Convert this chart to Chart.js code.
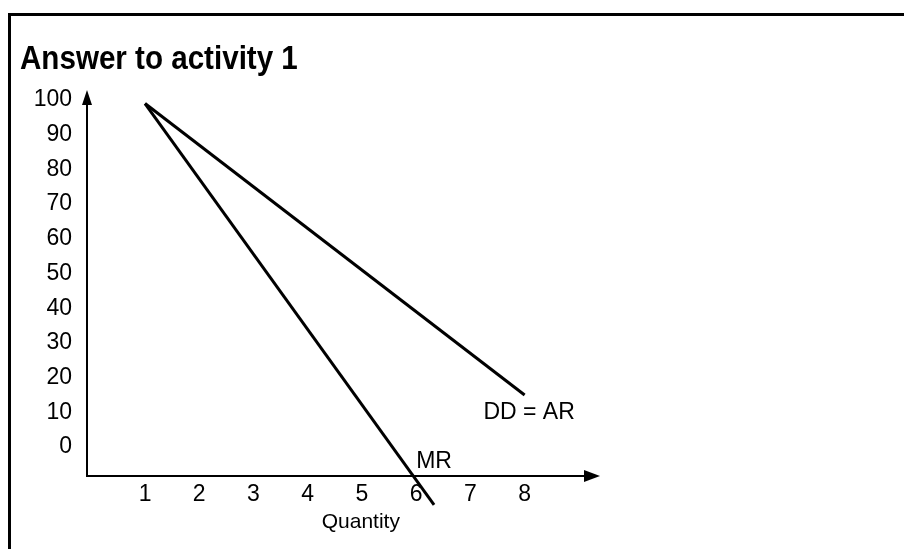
<!DOCTYPE html>
<html>
<head>
<meta charset="utf-8">
<script src="https://cdn.jsdelivr.net/npm/chart.js@4/dist/chart.umd.min.js"></script>
<style>
  html, body { margin: 0; padding: 0; background: #fff; overflow: hidden; }
  #wrap { width: 904px; height: 549px; }
</style>
</head>
<body>
<div id="wrap"><canvas id="revenueChart" width="904" height="549"></canvas></div>
<script>
// quantity on x, price / revenue on y
const quantityTicks = [1, 2, 3, 4, 5, 6, 7, 8];
const priceTicks = [0, 10, 20, 30, 40, 50, 60, 70, 80, 90, 100];

// demand (= average revenue) and marginal revenue, straight lines
const demandPoints = [{ x: 1, y: 99 }, { x: 8, y: 15 }];
const marginalPoints = [{ x: 1, y: 99 }, { x: 6.33, y: -16.7 }];

// curve names, placed in data units
const curveNames = ['DD = AR', 'MR'];
const curveNameX = [7.24, 6.0];
const curveNameY = [9.8, -4.3];

const titleText = 'Answer to activity 1';
const axisTitle = 'Quantity';
const fontFamily = "'Liberation Sans', Arial, Helvetica, sans-serif";

Chart.defaults.font.family = fontFamily;
Chart.defaults.color = '#000';

// border box, heading, arrowed axes and curve names
const diagramPlugin = {
  id: 'diagram',
  beforeDraw(chart) {
    const ctx = chart.ctx;
    ctx.save();
    ctx.fillStyle = '#fff';
    ctx.fillRect(0, 0, chart.width, chart.height);
    ctx.strokeStyle = '#000';
    ctx.lineWidth = 3;
    ctx.strokeRect(9.5, 14.5, 1200, 1200);
    // heading is a narrow bold face
    ctx.fillStyle = '#000';
    ctx.font = 'bold 34px ' + fontFamily;
    ctx.textBaseline = 'alphabetic';
    ctx.translate(20, 69);
    ctx.scale(0.87, 1);
    ctx.fillText(titleText, 0, 0);
    ctx.restore();
  },
  afterDraw(chart) {
    const ctx = chart.ctx;
    const { left, right, top, bottom } = chart.chartArea;
    const xs = chart.scales.x, ys = chart.scales.y;
    ctx.save();
    ctx.strokeStyle = '#000';
    ctx.fillStyle = '#000';
    ctx.lineWidth = 2;
    ctx.beginPath();
    ctx.moveTo(left, top + 10);
    ctx.lineTo(left, bottom);
    ctx.lineTo(right - 12, bottom);
    ctx.stroke();
    // arrow heads
    ctx.beginPath();
    ctx.moveTo(left, top);
    ctx.lineTo(left - 5, top + 15);
    ctx.lineTo(left + 5, top + 15);
    ctx.closePath();
    ctx.fill();
    ctx.beginPath();
    ctx.moveTo(right, bottom);
    ctx.lineTo(right - 16, bottom - 6);
    ctx.lineTo(right - 16, bottom + 6);
    ctx.closePath();
    ctx.fill();

    ctx.font = '23px ' + fontFamily;
    ctx.textAlign = 'left';
    ctx.textBaseline = 'middle';
    curveNames.forEach((name, i) => {
      ctx.fillText(name, xs.getPixelForValue(curveNameX[i]), ys.getPixelForValue(curveNameY[i]));
    });

    ctx.font = '21px ' + fontFamily;
    ctx.textAlign = 'center';
    ctx.fillText(axisTitle, xs.getPixelForValue(4.98), bottom + 46);
    ctx.restore();
  }
};

const lineStyle = {
  borderColor: '#000',
  borderWidth: 3,
  pointRadius: 0,
  tension: 0,
  clip: false,
  fill: false
};

new Chart(document.getElementById('revenueChart').getContext('2d'), {
  type: 'line',
  data: {
    datasets: [
      Object.assign({ label: 'DD = AR', data: demandPoints }, lineStyle),
      Object.assign({ label: 'MR', data: marginalPoints }, lineStyle)
    ]
  },
  options: {
    responsive: false,
    animation: false,
    devicePixelRatio: 1,
    layout: { padding: { left: 0, top: 90, right: 304, bottom: 0 } },
    plugins: {
      legend: { display: false },
      tooltip: { enabled: false }
    },
    scales: {
      x: {
        type: 'linear',
        min: -0.07,
        max: 9.39,
        afterBuildTicks: s => { s.ticks = quantityTicks.map(v => ({ value: v })); },
        afterFit: s => { s.height = 73; },
        grid: { display: false, drawTicks: false },
        border: { display: false },
        ticks: { padding: 5, font: { size: 23 }, maxRotation: 0, callback: v => String(v) }
      },
      y: {
        type: 'linear',
        min: -8.36,
        max: 102.9,
        afterBuildTicks: s => { s.ticks = priceTicks.map(v => ({ value: v })); },
        afterFit: s => { s.width = 87; },
        grid: { display: false, drawTicks: false },
        border: { display: false },
        ticks: { padding: 15, font: { size: 23 }, callback: v => String(v) }
      }
    }
  },
  plugins: [diagramPlugin]
});
</script>
</body>
</html>
